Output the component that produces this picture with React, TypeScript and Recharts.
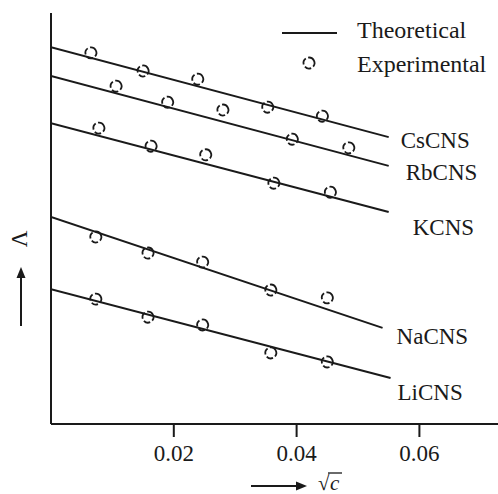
import React from 'react';
import { ComposedChart, Line, Scatter, XAxis, YAxis, Legend } from 'recharts';

// ---- data ----
const xTicks = [0.02, 0.04, 0.06];
const seriesNames = ['CsCNS', 'RbCNS', 'KCNS', 'NaCNS', 'LiCNS'];

// theoretical lines (start / end)
const csLineX = [0, 0.055];
const csLineY = [91.7, 69.8];
const rbLineX = [0, 0.055];
const rbLineY = [84.7, 62.8];
const kLineX = [0, 0.055];
const kLineY = [73.2, 51.6];
const naLineX = [0, 0.054];
const naLineY = [50.4, 23.4];
const liLineX = [0, 0.0553];
const liLineY = [32.8, 11.2];

// experimental points
const csX = [0.0065, 0.015, 0.0239, 0.0353, 0.0442];
const csY = [90.3, 85.9, 83.9, 77.1, 74.9];
const rbX = [0.0106, 0.019, 0.028, 0.0393, 0.0485];
const rbY = [82.2, 78.3, 76.4, 69.3, 67.2];
const kX = [0.0078, 0.0163, 0.0252, 0.0363, 0.0455];
const kY = [72.0, 67.6, 65.5, 58.6, 56.4];
const naX = [0.0073, 0.0158, 0.0247, 0.0358, 0.045];
const naY = [45.5, 41.6, 39.4, 32.6, 30.7];
const liX = [0.0073, 0.0158, 0.0247, 0.0358, 0.045];
const liY = [30.4, 26.0, 24.1, 17.3, 15.1];

const zip = (xs: number[], ys: number[]) => xs.map((x, i) => ({ x, y: ys[i] }));

const lineData = [
  zip(csLineX, csLineY),
  zip(rbLineX, rbLineY),
  zip(kLineX, kLineY),
  zip(naLineX, naLineY),
  zip(liLineX, liLineY),
];
const pointData = [
  zip(csX, csY),
  zip(rbX, rbY),
  zip(kX, kY),
  zip(naX, naY),
  zip(liX, liY),
];

// label offsets in px from line end (styling)
const labelOffsets = [
  [12, 3],
  [17, 7],
  [24, 16],
  [14, 9],
  [7, 15],
];

const FONT = '"Liberation Serif", "Times New Roman", serif';
const INK = '#1a1a1a';
const DASH = '6.5 2.6';

const Marker = (props: any) => {
  const { cx, cy } = props;
  if (cx == null || cy == null) return null;
  return (
    <circle
      cx={cx}
      cy={cy}
      r={5.5}
      fill="none"
      stroke={INK}
      strokeWidth={1.8}
      strokeDasharray={DASH}
      transform={`rotate(-30 ${cx} ${cy})`}
    />
  );
};

const makeEndLabel = (name: string, off: number[], lastIndex: number) => (props: any) => {
  const { x, y, index } = props;
  if (index !== lastIndex) return null;
  return (
    <text
      x={x + off[0]}
      y={y + off[1]}
      fontFamily={FONT}
      fontSize={23}
      fill={INK}
      textAnchor="start"
      dominantBaseline="central"
    >
      {name}
    </text>
  );
};

const LegendContent = () => (
  <svg width={498} height={90} style={{ display: 'block' }}>
    <line x1={282} y1={33} x2={337} y2={33} stroke={INK} strokeWidth={2} />
    <text x={357} y={38} fontFamily={FONT} fontSize={24} fill={INK}>
      Theoretical
    </text>
    <circle cx={309} cy={63} r={5.5} fill="none" stroke={INK} strokeWidth={1.8} strokeDasharray={DASH} transform="rotate(-30 309 63)" />
    <text x={357} y={72} fontFamily={FONT} fontSize={24} fill={INK}>
      Experimental
    </text>
  </svg>
);

const XLabel = () => (
  <g>
    <line x1={251} y1={486} x2={298} y2={486} stroke={INK} strokeWidth={2} />
    <polygon points="307,486 296,481.5 296,490.5" fill={INK} />
    <text x={318} y={490} fontFamily={FONT} fontSize={21} fill={INK}>
      √
    </text>
    <line x1={328} y1={473} x2={342} y2={473} stroke={INK} strokeWidth={1.3} />
    <text x={330} y={490} fontFamily={FONT} fontSize={21} fontStyle="italic" fill={INK}>
      c
    </text>
  </g>
);

const YLabel = () => (
  <g>
    <text
      x={19}
      y={239}
      fontFamily={FONT}
      fontSize={23}
      fill={INK}
      textAnchor="middle"
      dominantBaseline="central"
      transform="rotate(-90 19 239)"
    >
      Λ
    </text>
    <line x1={21} y1={326} x2={21} y2={277} stroke={INK} strokeWidth={2} />
    <polygon points="21,267 16.5,278 25.5,278" fill={INK} />
  </g>
);

export default function App() {
  return (
    <div style={{ position: 'absolute', left: 0, top: 0, width: 498, height: 494, background: '#fff' }}>
      <ComposedChart width={498} height={494} margin={{ top: 13, right: 0, bottom: 0, left: 50 }}>
        <XAxis
          type="number"
          dataKey="x"
          domain={[0, 0.0728]}
          allowDataOverflow
          ticks={xTicks}
          tickFormatter={(v: number) => v.toFixed(2)}
          height={70}
          tickSize={13}
          tickMargin={8}
          axisLine={{ stroke: INK, strokeWidth: 2 }}
          tickLine={{ stroke: INK, strokeWidth: 2 }}
          tick={{ fontFamily: FONT, fontSize: 23, fill: INK }}
          label={{ content: XLabel }}
        />
        <YAxis
          type="number"
          dataKey="y"
          domain={[0, 100]}
          allowDataOverflow
          width={1}
          tick={false}
          tickLine={false}
          axisLine={{ stroke: INK, strokeWidth: 2 }}
          label={{ content: YLabel }}
        />
        <Legend
          layout="vertical"
          verticalAlign="middle"
          align="center"
          wrapperStyle={{ position: 'absolute', left: 0, top: 0, width: 498, height: 90 }}
          content={LegendContent}
        />
        {lineData.map((d, i) => (
          <Line
            key={'l' + i}
            data={d}
            dataKey="y"
            type="linear"
            stroke={INK}
            strokeWidth={2}
            dot={false}
            activeDot={false}
            isAnimationActive={false}
            label={makeEndLabel(seriesNames[i], labelOffsets[i], d.length - 1)}
          />
        ))}
        {pointData.map((d, i) => (
          <Scatter
            key={'s' + i}
            data={d}
            dataKey="y"
            shape={Marker}
            isAnimationActive={false}
          />
        ))}
      </ComposedChart>
    </div>
  );
}
